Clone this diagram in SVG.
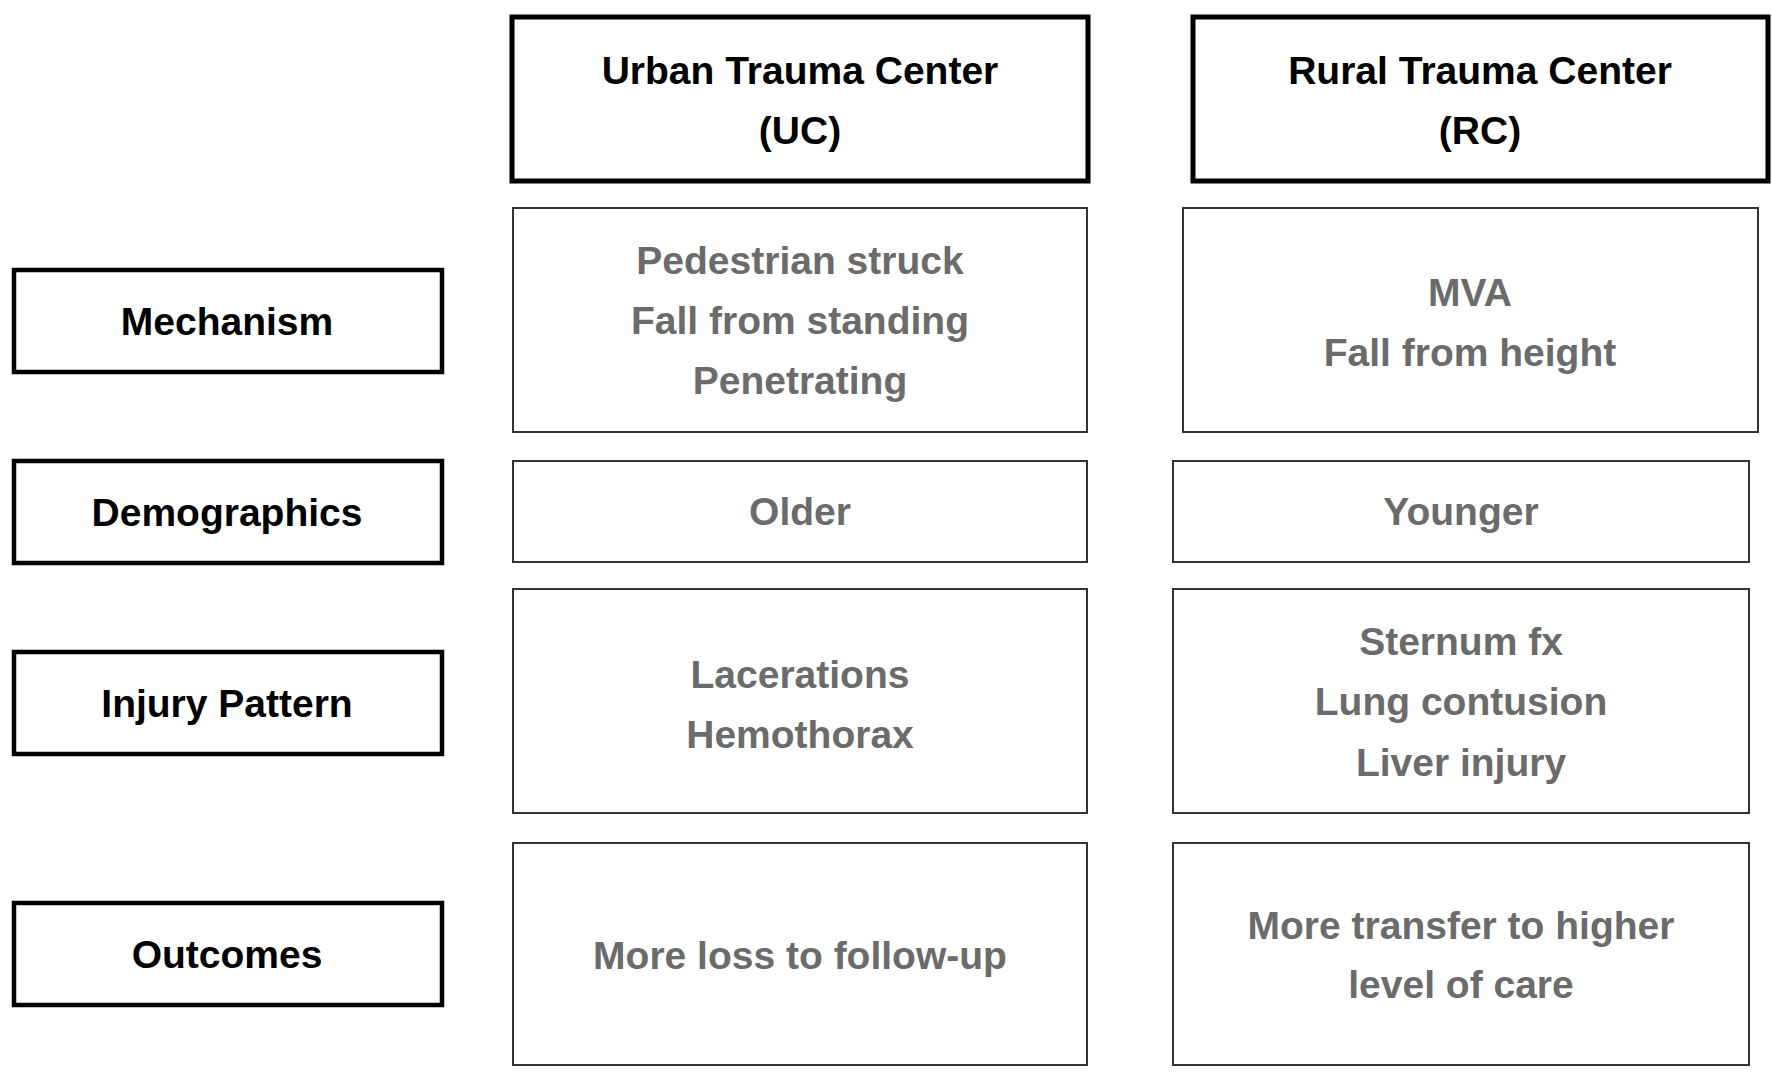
<svg xmlns="http://www.w3.org/2000/svg" width="1772" height="1072" viewBox="0 0 1772 1072">
<style>
text{font-family:"Liberation Sans",Arial,sans-serif;font-weight:bold;font-size:39px;text-anchor:middle}
.k{fill:#000}
.g{fill:#6b6b6b}
.hd{fill:#fff;stroke:#000;stroke-width:5}
.lb{fill:#fff;stroke:#000;stroke-width:4.5}
.bx{fill:#fff;stroke:#333;stroke-width:2}
</style>
<rect width="1772" height="1072" fill="#fff"/>
<g id="uc-header"><rect class="hd" x="512" y="17" width="576" height="164"/><text class="k" x="800" y="84">Urban Trauma Center</text><text class="k" x="800" y="144">(UC)</text></g>
<g id="rc-header"><rect class="hd" x="1193" y="17" width="575" height="164"/><text class="k" x="1480" y="84">Rural Trauma Center</text><text class="k" x="1480" y="144">(RC)</text></g>
<g id="mechanism"><rect class="lb" x="14" y="270" width="428" height="102"/><text class="k" x="227" y="335">Mechanism</text></g>
<g id="demographics"><rect class="lb" x="14" y="461" width="428" height="102"/><text class="k" x="227" y="526">Demographics</text></g>
<g id="injury"><rect class="lb" x="14" y="652" width="428" height="102"/><text class="k" x="227" y="717">Injury Pattern</text></g>
<g id="outcomes"><rect class="lb" x="14" y="903" width="428" height="102"/><text class="k" x="227" y="968">Outcomes</text></g>
<g id="uc-mech"><rect class="bx" x="513" y="208" width="574" height="224"/><text class="g" x="800" y="274">Pedestrian struck</text><text class="g" x="800" y="334">Fall from standing</text><text class="g" x="800" y="394">Penetrating</text></g>
<g id="rc-mech"><rect class="bx" x="1183" y="208" width="575" height="224"/><text class="g" x="1470" y="306">MVA</text><text class="g" x="1470" y="366">Fall from height</text></g>
<g id="uc-demo"><rect class="bx" x="513" y="461" width="574" height="101"/><text class="g" x="800" y="525">Older</text></g>
<g id="rc-demo"><rect class="bx" x="1173" y="461" width="576" height="101"/><text class="g" x="1461" y="525">Younger</text></g>
<g id="uc-inj"><rect class="bx" x="513" y="589" width="574" height="224"/><text class="g" x="800" y="688">Lacerations</text><text class="g" x="800" y="748">Hemothorax</text></g>
<g id="rc-inj"><rect class="bx" x="1173" y="589" width="576" height="224"/><text class="g" x="1461" y="655">Sternum fx</text><text class="g" x="1461" y="715">Lung contusion</text><text class="g" x="1461" y="776">Liver injury</text></g>
<g id="uc-out"><rect class="bx" x="513" y="843" width="574" height="222"/><text class="g" x="800" y="969">More loss to follow-up</text></g>
<g id="rc-out"><rect class="bx" x="1173" y="843" width="576" height="222"/><text class="g" x="1461" y="939">More transfer to higher</text><text class="g" x="1461" y="998">level of care</text></g>
<g id="connectors"/>
</svg>
